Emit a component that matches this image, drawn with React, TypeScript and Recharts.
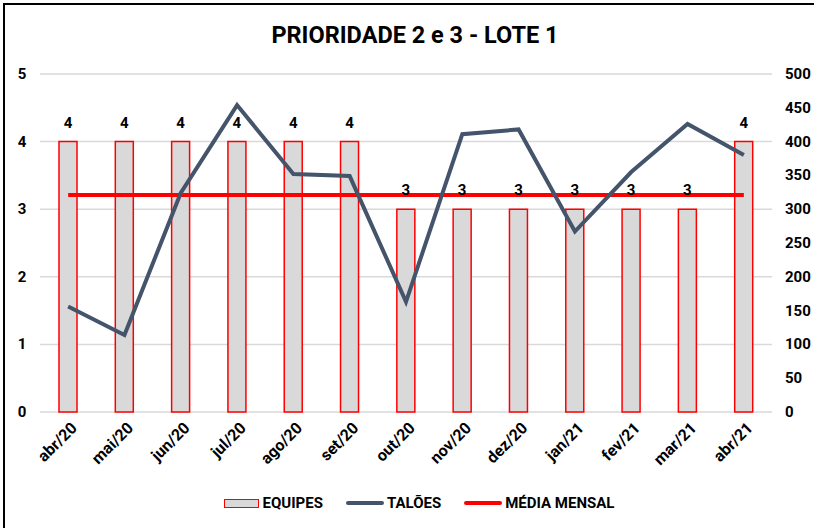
import React from "react";
import {
  ComposedChart, Bar, Line, XAxis, YAxis, CartesianGrid, Legend, LabelList,
} from "recharts";

const months = ["abr/20", "mai/20", "jun/20", "jul/20", "ago/20", "set/20", "out/20",
  "nov/20", "dez/20", "jan/21", "fev/21", "mar/21", "abr/21"];
const equipes = [4, 4, 4, 4, 4, 4, 3, 3, 3, 3, 3, 3, 4];
const taloes = [156, 114, 324, 454, 352, 349, 163, 411, 418, 267, 355, 426, 380];
const mediaMensal = 321;
const leftTicks = [0, 1, 2, 3, 4, 5];
const rightTicks = [0, 50, 100, 150, 200, 250, 300, 350, 400, 450, 500];

const data = months.map((m, i) => ({
  month: m, equipes: equipes[i], taloes: taloes[i], media: mediaMensal,
}));

const FONT = 'Roboto, sans-serif';
const LINE_COLOR = "#44546a";

function XTick({ x, y, payload }: any) {
  const tx = x + 6, ty = y + 5;
  return (
    <text x={tx} y={ty} transform={`rotate(-45 ${tx} ${ty})`} textAnchor="end"
      dominantBaseline="central" fontFamily={FONT} fontWeight="bold" fontSize={16} fill="#000">
      {payload.value}
    </text>
  );
}

function LeftTick({ y, payload }: any) {
  return (
    <text x={22} y={y} textAnchor="middle" dominantBaseline="central"
      fontFamily={FONT} fontWeight="bold" fontSize={15} fill="#000">{payload.value}</text>
  );
}

function RightTick({ x, y, payload }: any) {
  return (
    <text x={x + 5} y={y} textAnchor="start" dominantBaseline="central"
      fontFamily={FONT} fontWeight="bold" fontSize={15} fill="#000">{payload.value}</text>
  );
}

function BarLabel({ x, y, width, value }: any) {
  return (
    <text x={x + width / 2} y={y - 14} textAnchor="middle" fontFamily={FONT}
      fontWeight="bold" fontSize={15} fill="#000">{value}</text>
  );
}

function LegendContent() {
  const item = { display: "flex", alignItems: "center", marginRight: 23 } as const;
  const txt = { fontFamily: FONT, fontWeight: "bold", fontSize: 15, color: "#000" } as const;
  return (
    <div style={{ display: "flex", justifyContent: "center", paddingTop: 2, paddingLeft: 24 }}>
      <div style={item}>
        <div style={{ width: 33, height: 7, background: "#d9d9d9", border: "1.5px solid #ff0000", marginRight: 4 }} />
        <span style={txt}>EQUIPES</span>
      </div>
      <div style={item}>
        <div style={{ width: 38, height: 4, borderRadius: 2, background: LINE_COLOR, marginRight: 3 }} />
        <span style={txt}>TALÕES</span>
      </div>
      <div style={{ ...item, marginRight: 0 }}>
        <div style={{ width: 38, height: 4, borderRadius: 2, background: "#ff0000", marginRight: 3 }} />
        <span style={txt}>MÉDIA MENSAL</span>
      </div>
    </div>
  );
}

export default function App() {
  return (
    <div style={{ position: "absolute", left: 0, top: 0, width: 814, height: 528, background: "#fff" }}>
      <div style={{
        position: "absolute", left: 3, top: 3, right: -10, bottom: -10,
        borderLeft: "2px solid #000", borderTop: "2px solid #000",
      }} />
      <div style={{
        position: "absolute", top: 21, left: 0, width: 830, textAlign: "center",
        fontFamily: FONT, fontWeight: "bold", fontSize: 23.5, color: "#000",
      }}>PRIORIDADE 2 e 3 - LOTE 1</div>
      <ComposedChart width={814} height={528} data={data}
        margin={{ top: 74, right: 0, bottom: 0, left: 0 }}>
        <CartesianGrid yAxisId="left" vertical={false} stroke="#d9d9d9" strokeWidth={1.5} />
        <XAxis dataKey="month" height={80} tick={<XTick />} axisLine={false} tickLine={false} interval={0} />
        <YAxis yAxisId="left" width={40} domain={[0, 5]} ticks={leftTicks} tick={<LeftTick />}
          axisLine={false} tickLine={false} />
        <YAxis yAxisId="right" orientation="right" width={42} domain={[0, 500]} ticks={rightTicks}
          tick={<RightTick />} axisLine={false} tickLine={false} />
        <Legend verticalAlign="bottom" content={<LegendContent />} height={36} />
        <Bar yAxisId="left" dataKey="equipes" name="EQUIPES" barSize={18} fill="#d9d9d9"
          stroke="#ff0000" strokeWidth={1.5} isAnimationActive={false}>
          <LabelList dataKey="equipes" content={<BarLabel />} />
        </Bar>
        <Line yAxisId="right" dataKey="media" name="MÉDIA MENSAL" stroke="#ff0000" strokeWidth={4}
          dot={false} isAnimationActive={false} />
        <Line yAxisId="right" dataKey="taloes" name="TALÕES" stroke={LINE_COLOR} strokeWidth={4}
          dot={false} isAnimationActive={false} />
      </ComposedChart>
    </div>
  );
}
